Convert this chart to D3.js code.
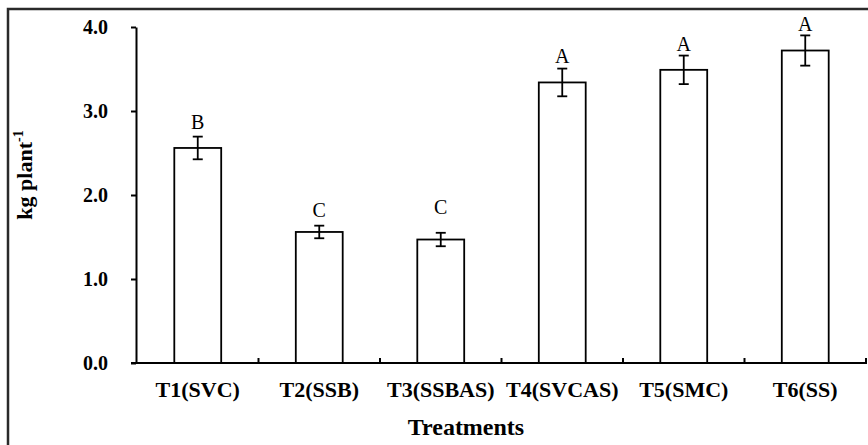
<!DOCTYPE html>
<html>
<head>
<meta charset="utf-8">
<script src="https://cdn.jsdelivr.net/npm/d3@7"></script>
<style>
  body { margin: 0; background: #fff; }
  svg text { font-family: "Liberation Serif", "Times New Roman", serif; fill: #000; }
</style>
</head>
<body>
<svg id="chart" width="868" height="445"></svg>
<script>
// values
const categories = ["T1(SVC)", "T2(SSB)", "T3(SSBAS)", "T4(SVCAS)", "T5(SMC)", "T6(SS)"];
const means = [2.56, 1.56, 1.47, 3.34, 3.49, 3.72];
const errors = [0.135, 0.075, 0.08, 0.165, 0.17, 0.18];
const letters = ["B", "C", "C", "A", "A", "A"];
const letterAt = [2.79, 1.74, 1.77, 3.57, 3.72, 3.95];
const yTicks = [0, 1, 2, 3, 4];

const svg = d3.select("#chart");

// outer frame, runs off the right/bottom edge
svg.append("rect")
  .attr("x", 8).attr("y", 9)
  .attr("width", 900).attr("height", 480)
  .attr("fill", "none")
  .attr("stroke", "#2a2a2a")
  .attr("stroke-width", 2.5);

const x = d3.scaleBand().domain(categories).range([137, 866]).padding(0);
const y = d3.scaleLinear().domain([0, 4]).range([363, 27]);
const barW = x.bandwidth() * 0.386;
const cx = c => x(c) + x.bandwidth() / 2;

// y axis
const yAxis = svg.append("g")
  .attr("transform", "translate(136,0)")
  .call(d3.axisLeft(y).tickValues(yTicks).tickFormat(d3.format(".1f"))
    .tickSize(5).tickSizeOuter(0).tickPadding(23));
yAxis.attr("font-family", null).attr("font-size", null);
yAxis.select(".domain").attr("stroke-width", 2);
yAxis.selectAll(".tick line").attr("stroke-width", 2);
yAxis.selectAll(".tick text")
  .style("font-weight", "bold")
  .style("font-size", "20px");

// bars
const data = categories.map((c, i) => ({ c, m: means[i], e: errors[i], l: letters[i], ly: letterAt[i] }));

svg.append("g").selectAll("rect")
  .data(data).join("rect")
  .attr("x", d => cx(d.c) - barW / 2)
  .attr("y", d => y(d.m))
  .attr("width", barW)
  .attr("height", d => y(0) - y(d.m))
  .attr("fill", "#fff")
  .attr("stroke", "#000")
  .attr("stroke-width", 1.8);

// error bars
const eb = svg.append("g").attr("stroke", "#000").attr("stroke-width", 1.8);
data.forEach(d => {
  eb.append("line").attr("x1", cx(d.c)).attr("x2", cx(d.c))
    .attr("y1", y(d.m + d.e)).attr("y2", y(d.m - d.e));
  [d.m + d.e, d.m - d.e].forEach(v => {
    eb.append("line").attr("x1", cx(d.c) - 5).attr("x2", cx(d.c) + 5)
      .attr("y1", y(v)).attr("y2", y(v));
  });
});

// significance letters
svg.append("g").selectAll("text")
  .data(data).join("text")
  .attr("x", d => cx(d.c))
  .attr("y", d => y(d.ly))
  .attr("text-anchor", "middle")
  .style("font-size", "20px")
  .text(d => d.l);

// x axis line and category boundary ticks
svg.append("line")
  .attr("x1", 131).attr("x2", 867)
  .attr("y1", y(0)).attr("y2", y(0))
  .attr("stroke", "#000").attr("stroke-width", 2);
svg.append("g").selectAll("line")
  .data(categories).join("line")
  .attr("x1", c => x(c) + x.bandwidth()).attr("x2", c => x(c) + x.bandwidth())
  .attr("y1", y(0)).attr("y2", y(0) - 5)
  .attr("stroke", "#000").attr("stroke-width", 2);

svg.append("g").selectAll("text")
  .data(categories).join("text")
  .attr("x", c => cx(c))
  .attr("y", 397)
  .attr("text-anchor", "middle")
  .style("font-weight", "bold")
  .style("font-size", "22px")
  .text(c => c);

// axis titles
svg.append("text")
  .attr("x", 466).attr("y", 435)
  .attr("text-anchor", "middle")
  .style("font-weight", "bold")
  .style("font-size", "24px")
  .text("Treatments");

const yt = svg.append("text")
  .attr("transform", "translate(32,175) rotate(-90)")
  .attr("text-anchor", "middle")
  .style("font-weight", "bold")
  .style("font-size", "22px");
yt.append("tspan").text("kg plant");
yt.append("tspan").attr("dy", -9).style("font-size", "14px").text("-1");
</script>
</body>
</html>
